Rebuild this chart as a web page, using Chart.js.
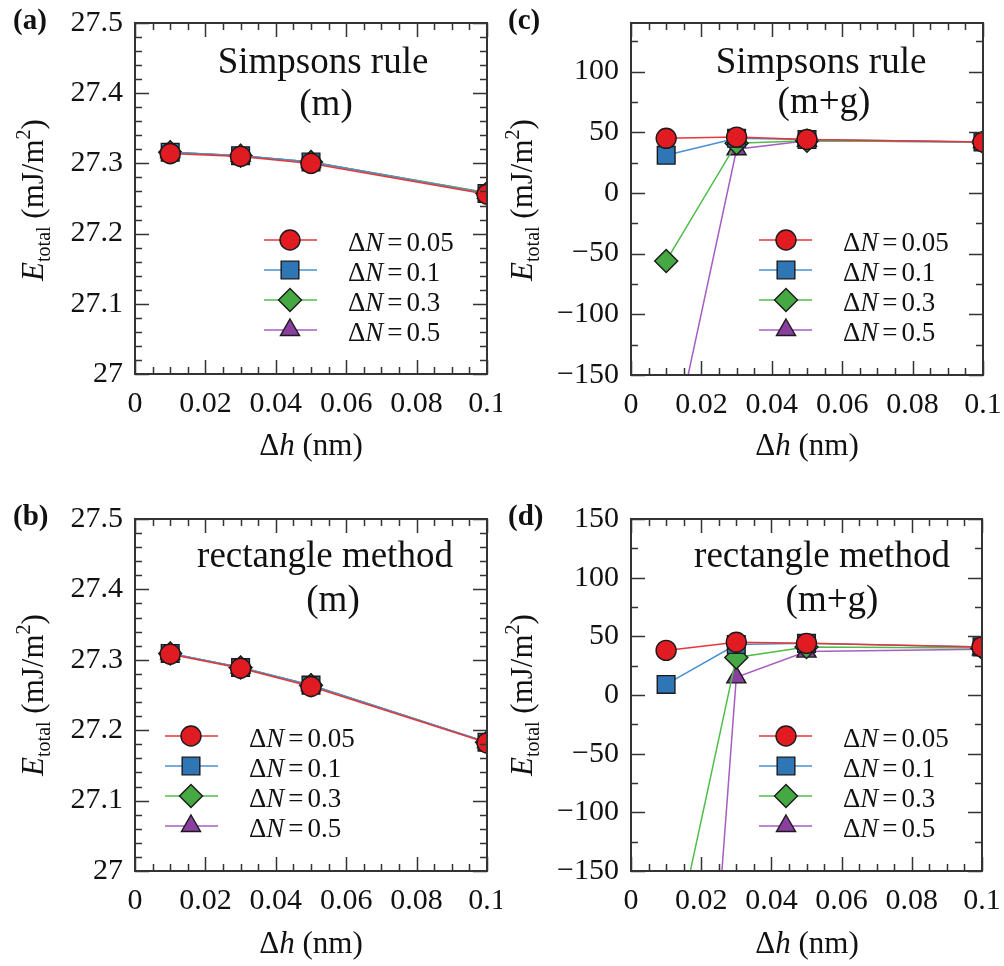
<!DOCTYPE html>
<html>
<head>
<meta charset="utf-8">
<script src="https://cdn.jsdelivr.net/npm/chart.js@4.4.1/dist/chart.umd.min.js"></script>
<style>
html, body { margin: 0; padding: 0; background: #fff; }
#wrap { position: relative; width: 1004px; height: 966px; }
#wrap canvas { position: absolute; }
</style>
</head>
<body>
<div id="wrap">
  <canvas id="pa" width="502" height="483" style="left:0;top:0;width:502px;height:483px"></canvas>
  <canvas id="pc" width="502" height="483" style="left:502px;top:0;width:502px;height:483px"></canvas>
  <canvas id="pb" width="502" height="483" style="left:0;top:483px;width:502px;height:483px"></canvas>
  <canvas id="pd" width="502" height="483" style="left:502px;top:483px;width:502px;height:483px"></canvas>
</div>
<script>
// ===== Data =====
const dh = [0.01, 0.03, 0.05, 0.1];
const dN = ["0.05", "0.1", "0.3", "0.5"];

// (a) Simpsons rule (m)
const simpM_005 = [27.314, 27.310, 27.300, 27.256];
const simpM_01  = [27.316, 27.311, 27.302, 27.257];
const simpM_03  = [27.316, 27.311, 27.302, 27.258];
const simpM_05  = [27.316, 27.311, 27.302, 27.258];

// (b) rectangle method (m)
const rectM_005 = [27.308, 27.288, 27.262, 27.182];
const rectM_01  = [27.309, 27.289, 27.264, 27.183];
const rectM_03  = [27.309, 27.289, 27.264, 27.183];
const rectM_05  = [27.309, 27.289, 27.264, 27.183];

// (c) Simpsons rule (m+g)
const simpMG_005 = [45, 46, 44, 42];
const simpMG_01  = [31, 45, 44, 42];
const simpMG_03  = [-56, 41, 43, 42];
const simpMG_05  = [-234, 36, 43, 42];

// (d) rectangle method (m+g)
const rectMG_005 = [38, 45, 44, 41];
const rectMG_01  = [9, 43, 44, 41];
const rectMG_03  = [-246, 32, 41, 40];
const rectMG_05  = [-790, 15, 37, 39];

// tick labels
const xTicks  = [0, 0.02, 0.04, 0.06, 0.08, 0.1];
const yTicksM = [27, 27.1, 27.2, 27.3, 27.4, 27.5];
const yTicksC = [-150, -100, -50, 0, 50, 100];
const yTicksD = [-150, -100, -50, 0, 50, 100, 150];

// ===== Styles =====
const FONT = '"Liberation Serif", "Times New Roman", serif';
const STYLES = [
    { line: "#e8363a", fill: "#e01b22", point: "circle",   r: 10 },
    { line: "#4a90d0", fill: "#2f76b6", point: "rect",     r: 12.5 },
    { line: "#4fbd4a", fill: "#45a843", point: "rectRot",  r: 11.5 },
    { line: "#a65ec2", fill: "#8a3ea0", point: "triangle", r: 11 }
];

function fmtTick(v) {
    return String(+v.toFixed(4)).replace("-", "\u2212");
}

function makeDatasets(series) {
    return series.map((vals, i) => ({
        label: "\u0394N = " + dN[i],
        data: dh.map((x, k) => ({ x: x, y: vals[k] })),
        borderColor: STYLES[i].line,
        borderWidth: 1.5,
        pointStyle: STYLES[i].point,
        pointRadius: STYLES[i].r,
        pointBackgroundColor: STYLES[i].fill,
        pointBorderColor: "#1a1a1a",
        pointBorderWidth: 1.4,
        tension: 0
    }));
}

// draw text made of parts with different fonts / offsets
function drawParts(ctx, parts, x0, y0, align) {
    let w = 0;
    parts.forEach(p => { ctx.font = p.f; p.w = ctx.measureText(p.t).width; w += p.w + (p.gap || 0); });
    let x = align === "left" ? x0 : x0 - w / 2;
    parts.forEach(p => {
        ctx.font = p.f;
        ctx.fillText(p.t, x, y0 + (p.dy || 0));
        x += p.w + (p.gap || 0);
    });
}

function decoPlugin(d) {
    return {
        id: "deco",
        afterDatasetsDraw(chart) {
            const { ctx, chartArea: a, scales: { x, y } } = chart;
            ctx.save();

            // ticks in on all four sides
            ctx.strokeStyle = "#333";
            ctx.lineWidth = 1.5;
            ctx.beginPath();
            const tx = (v, len) => {
                const px = Math.round(x.getPixelForValue(v)) + 0.5;
                ctx.moveTo(px, a.bottom); ctx.lineTo(px, a.bottom - len);
                ctx.moveTo(px, a.top); ctx.lineTo(px, a.top + len);
            };
            const ty = (v, len) => {
                const py = Math.round(y.getPixelForValue(v)) + 0.5;
                ctx.moveTo(a.left, py); ctx.lineTo(a.left + len, py);
                ctx.moveTo(a.right, py); ctx.lineTo(a.right - len, py);
            };
            const nx = Math.round((x.max - x.min) / d.minorX);
            for (let k = 0; k <= nx; k++) tx(x.min + k * d.minorX, 7);
            const ny = Math.floor((y.max - y.min) / d.minorY + 1e-6);
            for (let k = 0; k <= ny; k++) ty(y.min + k * d.minorY, 7);
            x.ticks.forEach(t => tx(t.value, 14));
            y.ticks.forEach(t => ty(t.value, 14));
            ctx.stroke();

            // frame
            ctx.lineWidth = 2;
            ctx.strokeRect(a.left, a.top, a.right - a.left, a.bottom - a.top);

            ctx.fillStyle = "#111";
            ctx.textBaseline = "alphabetic";

            // panel label
            ctx.font = "bold 29px " + FONT;
            ctx.textAlign = "left";
            ctx.fillText(d.label, d.labelPos[0], d.labelPos[1]);

            // title inside the plot
            ctx.font = "37px " + FONT;
            ctx.textAlign = "center";
            ctx.fillText(d.title[0], d.titlePos[0][0], d.titlePos[0][1]);
            ctx.fillText(d.title[1], d.titlePos[1][0], d.titlePos[1][1]);
            ctx.textAlign = "left";

            // x axis title
            drawParts(ctx, [
                { t: "\u0394", f: "31px " + FONT },
                { t: "h", f: "italic 31px " + FONT },
                { t: " (nm)", f: "31px " + FONT }
            ], d.xTitle[0], d.xTitle[1]);

            // y axis title
            ctx.save();
            ctx.translate(d.yTitle[0], d.yTitle[1]);
            ctx.rotate(-Math.PI / 2);
            drawParts(ctx, [
                { t: "E", f: "italic 31px " + FONT },
                { t: "total", f: "20px " + FONT, dy: 7 },
                { t: " (mJ/m", f: "31px " + FONT },
                { t: "2", f: "20px " + FONT, dy: -13 },
                { t: ")", f: "31px " + FONT }
            ], 0, 0);
            ctx.restore();

            // legend
            const L = d.legend;
            chart.data.datasets.forEach((ds, i) => {
                const yy = L.y0 + i * L.gap;
                ctx.strokeStyle = ds.borderColor;
                ctx.lineWidth = 1.5;
                ctx.beginPath();
                ctx.moveTo(L.lineL, yy); ctx.lineTo(L.lineR, yy);
                ctx.stroke();
                ctx.fillStyle = ds.pointBackgroundColor;
                ctx.strokeStyle = ds.pointBorderColor;
                ctx.lineWidth = ds.pointBorderWidth;
                Chart.helpers.drawPoint(ctx, {
                    pointStyle: ds.pointStyle, radius: ds.pointRadius,
                    rotation: 0, borderWidth: ds.pointBorderWidth
                }, L.mx, yy);
                ctx.fillStyle = "#111";
                drawParts(ctx, [
                    { t: "\u0394", f: "27px " + FONT },
                    { t: "N", f: "italic 27px " + FONT, gap: 4 },
                    { t: "=", f: "27px " + FONT, gap: 4 },
                    { t: dN[i], f: "27px " + FONT }
                ], L.textX, yy + 11, "left");
            });

            ctx.restore();
        }
    };
}

function makePanel(id, series, yMin, yMax, yTicks, minorY, box, deco) {
    const cv = document.getElementById(id);
    const W = cv.width, H = cv.height;
    deco.minorX = 0.005;
    deco.minorY = minorY;
    return new Chart(cv, {
        type: "line",
        data: { datasets: makeDatasets(series) },
        options: {
            responsive: false,
            animation: false,
            devicePixelRatio: 1,
            layout: { padding: { left: 0, top: box.top, right: W - box.right, bottom: 0 } },
            plugins: { legend: { display: false }, tooltip: { enabled: false } },
            scales: {
                x: {
                    type: "linear", min: 0, max: 0.1,
                    afterBuildTicks: s => { s.ticks = xTicks.map(v => ({ value: v })); },
                    afterFit: s => { s.height = H - box.bottom; s.paddingLeft = 0; s.paddingRight = 0; },
                    grid: { display: false, drawTicks: false },
                    border: { display: false },
                    ticks: {
                        callback: fmtTick, autoSkip: false, maxRotation: 0, padding: 12,
                        color: "#111", font: { family: FONT, size: 30 }
                    }
                },
                y: {
                    type: "linear", min: yMin, max: yMax,
                    afterBuildTicks: s => { s.ticks = yTicks.map(v => ({ value: v })); },
                    afterFit: s => { s.width = box.left; s.paddingTop = 0; s.paddingBottom = 0; },
                    grid: { display: false, drawTicks: false },
                    border: { display: false },
                    ticks: {
                        callback: fmtTick, autoSkip: false, padding: 12,
                        color: "#111", font: { family: FONT, size: 30 }
                    }
                }
            }
        },
        plugins: [decoPlugin(deco)]
    });
}

// ===== (a) =====
makePanel("pa", [simpM_005, simpM_01, simpM_03, simpM_05], 27, 27.5, yTicksM, 0.02,
    { left: 135, top: 23, right: 487, bottom: 374 },
    {
        label: "(a)", labelPos: [13, 29],
        title: ["Simpsons rule", "(m)"], titlePos: [[323, 73], [326, 115]],
        xTitle: [311, 455], yTitle: [43, 200],
        legend: { mx: 290, lineL: 264, lineR: 317, textX: 348, y0: 240, gap: 30 }
    });

// ===== (c) =====
makePanel("pc", [simpMG_005, simpMG_01, simpMG_03, simpMG_05], -150, 140, yTicksC, 25,
    { left: 129, top: 23, right: 481, bottom: 375 },
    {
        label: "(c)", labelPos: [6, 29],
        title: ["Simpsons rule", "(m+g)"], titlePos: [[319, 73], [322, 113]],
        xTitle: [305, 455], yTitle: [30, 200],
        legend: { mx: 284, lineL: 257, lineR: 310, textX: 341, y0: 240, gap: 30 }
    });

// ===== (b) =====
makePanel("pb", [rectM_005, rectM_01, rectM_03, rectM_05], 27, 27.5, yTicksM, 0.02,
    { left: 135, top: 36, right: 487, bottom: 388 },
    {
        label: "(b)", labelPos: [13, 42],
        title: ["rectangle method", "(m)"], titlePos: [[325, 84], [333, 128]],
        xTitle: [311, 470], yTitle: [43, 212],
        legend: { mx: 191, lineL: 165, lineR: 218, textX: 249, y0: 253, gap: 30 }
    });

// ===== (d) =====
makePanel("pd", [rectMG_005, rectMG_01, rectMG_03, rectMG_05], -150, 150, yTicksD, 25,
    { left: 129, top: 36, right: 480, bottom: 388 },
    {
        label: "(d)", labelPos: [6, 42],
        title: ["rectangle method", "(m+g)"], titlePos: [[320, 84], [330, 128]],
        xTitle: [305, 470], yTitle: [30, 212],
        legend: { mx: 284, lineL: 257, lineR: 310, textX: 341, y0: 253, gap: 30 }
    });
</script>
</body>
</html>
